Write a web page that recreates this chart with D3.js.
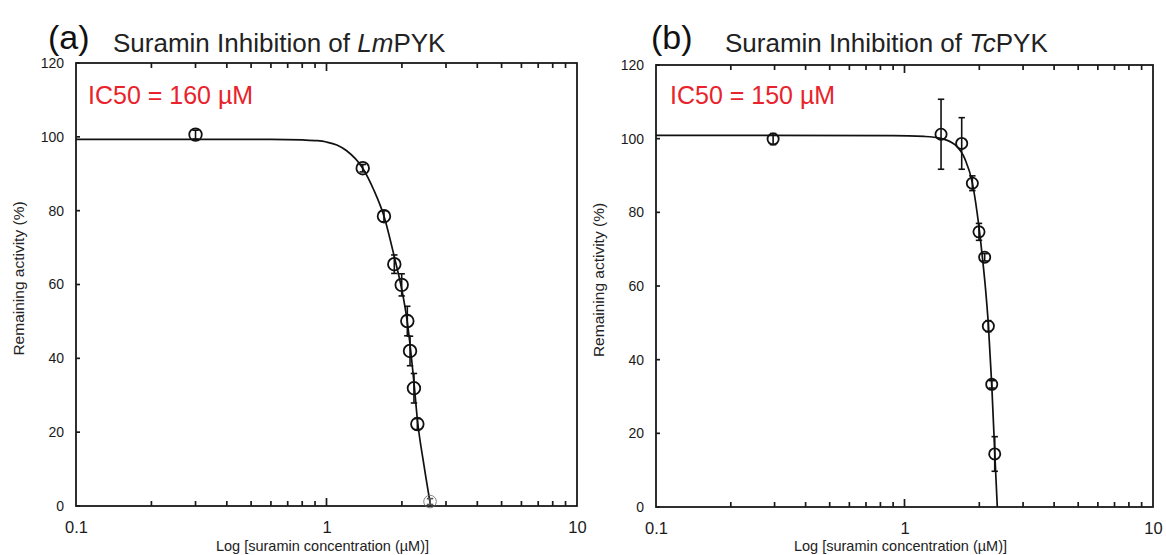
<!DOCTYPE html>
<html>
<head>
<meta charset="utf-8">
<script src="https://cdn.jsdelivr.net/npm/d3@7/dist/d3.min.js"></script>
<style>
  html, body { margin: 0; padding: 0; background: #fff; }
  svg { display: block; }
  text { font-family: "Liberation Sans", Arial, sans-serif; }
</style>
</head>
<body>
<svg id="chart" width="1166" height="555"></svg>
<script>
// ---------- data ----------
const xTickValues = [0.1, 1, 10];
const xTickLabels = ["0.1", "1", "10"];
const xMinorTicks = [0.2, 0.3, 0.4, 0.5, 0.6, 0.7, 0.8, 0.9, 2, 3, 4, 5, 6, 7, 8, 9];
const yTickValues = [0, 20, 40, 60, 80, 100, 120];

// Panel (a) LmPYK
const lmConc     = [0.30, 1.395, 1.696, 1.865, 1.996, 2.102, 2.155, 2.234, 2.305, 2.59];
const lmActivity = [100.6, 91.5, 78.5, 65.5, 59.9, 50.1, 42.0, 31.9, 22.2, 1.2];
const lmError    = [1.2, 1.0, 1.5, 2.5, 3.0, 4.0, 4.0, 4.0, 1.5, 0.8];
const lmFitConc     = [0.1, 0.6, 0.8, 0.92, 1.0, 1.1, 1.2, 1.395, 1.54, 1.7, 1.865, 2.0, 2.1, 2.2, 2.234, 2.305, 2.45, 2.605];
const lmFitActivity = [99.3, 99.3, 99.15, 98.95, 98.6, 97.8, 96.3, 91.5, 85.8, 78.3, 67.5, 58.5, 50, 38, 33.5, 23.5, 11, 0];

// Panel (b) TcPYK
const tcConc     = [0.296, 1.403, 1.699, 1.875, 1.994, 2.102, 2.175, 2.244, 2.307];
const tcActivity = [99.9, 101.2, 98.7, 87.9, 74.7, 67.8, 49.1, 33.3, 14.4];
const tcError    = [1.5, 9.5, 7.0, 2.0, 2.3, 1.0, 1.5, 1.0, 4.7];
const tcFitConc     = [0.1, 0.9, 1.2, 1.4, 1.6, 1.75, 1.875, 1.994, 2.06, 2.12, 2.175, 2.244, 2.307, 2.363];
const tcFitActivity = [100.9, 100.85, 100.6, 100.1, 98.3, 94.5, 88, 76, 67.5, 59, 49.5, 33.3, 15, 0];

const panels = [
  { tag: "(a)", species: "Lm", ic50: "IC50 = 160 µM",
    conc: lmConc, act: lmActivity, err: lmError, fitX: lmFitConc, fitY: lmFitActivity,
    x0: 76, x1: 577, y0: 63, y1: 506, lastFaint: true, r: 6.3,
    tagX: 48, titleX: 113, icX: 88 },
  { tag: "(b)", species: "Tc", ic50: "IC50 = 150 µM",
    conc: tcConc, act: tcActivity, err: tcError, fitX: tcFitConc, fitY: tcFitActivity,
    x0: 656, x1: 1153, y0: 65, y1: 507, lastFaint: false, r: 5.6,
    tagX: 651, titleX: 725, icX: 670 }
];

const svg = d3.select("#chart");
const ink = "#1a1a1a";
const FONT = "Liberation Sans, Arial, sans-serif";

panels.forEach(p => {
  const g = svg.append("g");
  const x = d3.scaleLog().domain([0.1, 10]).range([p.x0, p.x1]);
  const y = d3.scaleLinear().domain([0, 120]).range([p.y1, p.y0]);

  // inward x ticks on bottom and top (minor + major at 1)
  const xt = xMinorTicks.map(v => ({ v, len: 5 })).concat([{ v: 1, len: 8 }]);
  const tg = g.append("g").attr("stroke", ink).attr("stroke-width", 1.7);
  tg.selectAll("line.b").data(xt).join("line").attr("class", "b")
    .attr("x1", d => x(d.v)).attr("x2", d => x(d.v))
    .attr("y1", p.y1).attr("y2", d => p.y1 - d.len);
  tg.selectAll("line.t").data(xt).join("line").attr("class", "t")
    .attr("x1", d => x(d.v)).attr("x2", d => x(d.v))
    .attr("y1", p.y0).attr("y2", d => p.y0 + d.len);
  // inward y ticks
  tg.selectAll("line.l").data(yTickValues).join("line").attr("class", "l")
    .attr("x1", p.x0).attr("x2", p.x0 + 4)
    .attr("y1", d => y(d)).attr("y2", d => y(d));

  // x tick labels
  g.append("g").attr("transform", `translate(0,${p.y1})`)
    .call(d3.axisBottom(x).tickValues(xTickValues).tickSize(0).tickPadding(15)
      .tickFormat((d, i) => xTickLabels[i]))
    .call(s => s.select(".domain").remove())
    .call(s => s.selectAll("text").attr("font-size", 16.5).attr("fill", ink)
      .attr("font-family", FONT));

  // y tick labels
  g.append("g").attr("transform", `translate(${p.x0},0)`)
    .call(d3.axisLeft(y).tickValues(yTickValues).tickSize(0).tickPadding(12))
    .call(s => s.select(".domain").remove())
    .call(s => s.selectAll("text").attr("font-size", 14).attr("fill", ink)
      .attr("font-family", FONT));

  // frame
  g.append("rect").attr("x", p.x0).attr("y", p.y0)
    .attr("width", p.x1 - p.x0).attr("height", p.y1 - p.y0)
    .attr("fill", "none").attr("stroke", ink).attr("stroke-width", 1.8);

  // fitted curve
  const fit = p.fitX.map((c, i) => [c, p.fitY[i]]);
  g.append("path").datum(fit)
    .attr("d", d3.line().x(d => x(d[0])).y(d => y(d[1])).curve(d3.curveMonotoneX))
    .attr("fill", "none").attr("stroke", "#111").attr("stroke-width", 1.7);

  // error bars
  const pts = p.conc.map((c, i) => ({ c, v: p.act[i], e: p.err[i], faint: p.lastFaint && i === p.conc.length - 1 }));
  const eb = g.append("g");
  pts.forEach(d => {
    const col = d.faint ? "#555" : "#111";
    const cx = x(d.c);
    eb.append("line").attr("x1", cx).attr("x2", cx)
      .attr("y1", y(d.v + d.e)).attr("y2", y(d.v - d.e))
      .attr("stroke", col).attr("stroke-width", 1.6);
    [d.v + d.e, d.v - d.e].forEach(v => {
      eb.append("line").attr("x1", cx - 3.2).attr("x2", cx + 3.2)
        .attr("y1", y(v)).attr("y2", y(v))
        .attr("stroke", col).attr("stroke-width", 1.6);
    });
  });

  // circles
  g.append("g").selectAll("circle").data(pts).join("circle")
    .attr("cx", d => x(d.c)).attr("cy", d => y(d.v)).attr("r", p.r)
    .attr("fill", "none")
    .attr("stroke", d => d.faint ? "#666" : "#111")
    .attr("stroke-width", d => d.faint ? 0.8 : 1.8);

  // labels
  svg.append("text").attr("x", p.tagX).attr("y", 49)
    .attr("font-size", 34).attr("fill", "#111").text(p.tag);
  const t = svg.append("text").attr("x", p.titleX).attr("y", 52)
    .attr("font-size", 26).attr("fill", "#222");
  t.append("tspan").text("Suramin Inhibition of ");
  t.append("tspan").attr("font-style", "italic").text(p.species);
  t.append("tspan").text("PYK");

  svg.append("text").attr("x", p.icX).attr("y", 104)
    .attr("font-size", 25).attr("fill", "#e8232b").text(p.ic50);

  svg.append("text")
    .attr("transform", `translate(${p.x0 - 52},${(p.y0 + p.y1) / 2 - 6}) rotate(-90)`)
    .attr("text-anchor", "middle").attr("font-size", 15.5).attr("fill", "#222")
    .text("Remaining activity (%)");

  svg.append("text").attr("x", (p.x0 + p.x1) / 2 - 4).attr("y", 551)
    .attr("text-anchor", "middle").attr("font-size", 14.5).attr("fill", "#222")
    .text("Log [suramin concentration (µM)]");
});
</script>
</body>
</html>
